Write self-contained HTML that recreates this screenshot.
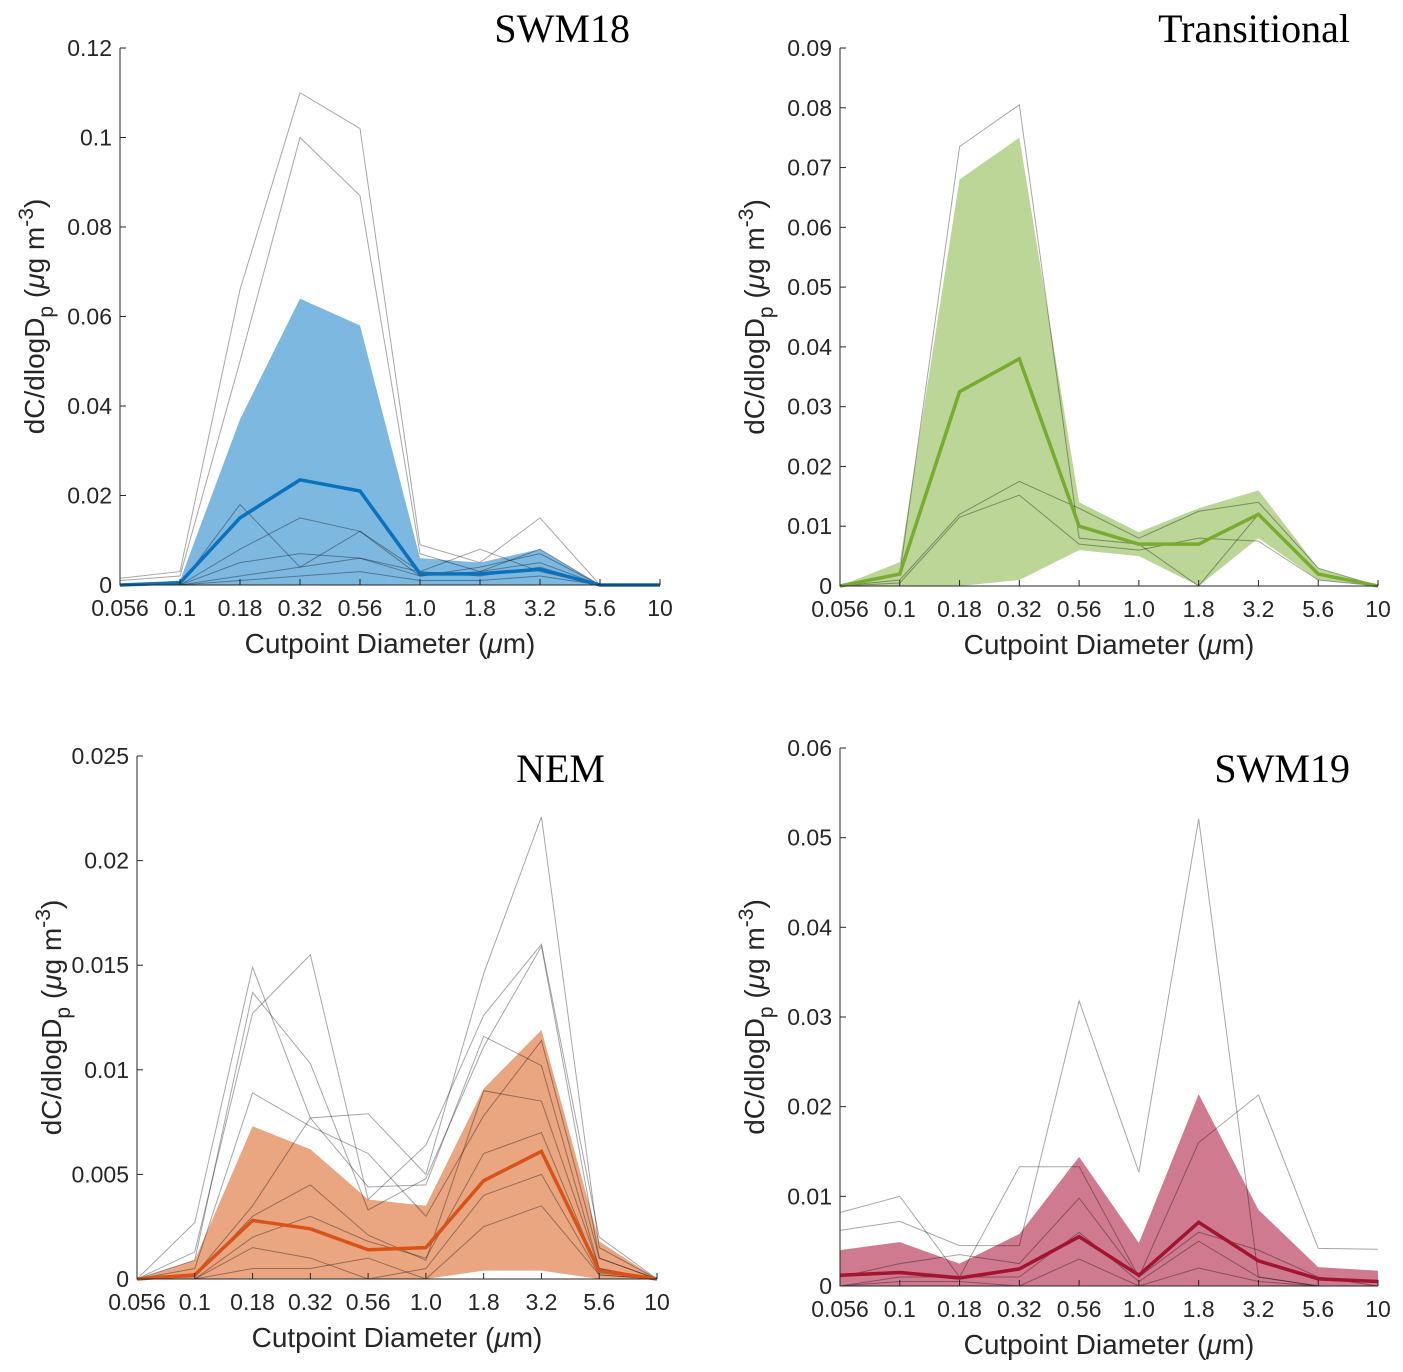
<!DOCTYPE html>
<html><head><meta charset="utf-8"><style>
body{margin:0;background:#fff;}
svg{display:block;font-family:"Liberation Sans",sans-serif;}
</style></head><body>
<svg id="chart" width="1403" height="1372"></svg>
<script>
const categories=["0.056","0.1","0.18","0.32","0.56","1.0","1.8","3.2","5.6","10"];
const swm18Mean=[0,0.0005,0.015,0.0235,0.021,0.0025,0.0025,0.0035,0,0];
const swm18Upper=[0,0.001,0.037,0.064,0.058,0.006,0.005,0.008,0,0];
const swm18Lower=[0,0,0,0,0,0,0,0,0,0];
const swm18Gray=[
[0.0015,0.003,0.066,0.110,0.102,0.009,0.005,0.015,0,0],
[0.001,0.002,0.050,0.100,0.087,0.007,0.003,0.008,0,0],
[0,0,0.018,0.004,0.012,0.003,0.008,0.003,0,0],
[0,0,0.008,0.015,0.012,0.002,0.004,0.007,0,0],
[0,0,0.005,0.007,0.006,0.002,0.003,0.005,0,0],
[0,0,0.002,0.004,0.006,0.003,0.002,0.004,0,0],
[0,0,0.001,0.002,0.003,0.001,0.001,0.002,0,0]];
const transMean=[0,0.002,0.0325,0.038,0.010,0.007,0.007,0.012,0.002,0];
const transUpper=[0,0.004,0.068,0.075,0.014,0.009,0.013,0.016,0.003,0];
const transLower=[0,0,0,0.001,0.006,0.005,0,0.008,0.001,0];
const transGray=[
[0,0.002,0.0735,0.0805,0.008,0.007,0,0.012,0.002,0],
[0,0.001,0.012,0.0175,0.013,0.008,0.0125,0.014,0.003,0],
[0,0.0005,0.0115,0.0152,0.007,0.006,0.008,0.0075,0.001,0]];
const nemMean=[0,0.0002,0.0028,0.0024,0.0014,0.0015,0.0047,0.0061,0.0004,0];
const nemUpper=[0,0.0009,0.0073,0.0062,0.0038,0.0035,0.0091,0.0119,0.0018,0];
const nemLower=[0,0,0,0,0,0,0.0004,0.0004,0,0];
const nemGray=[
[0,0.0027,0.0149,0.0077,0.0079,0.0050,0.0146,0.0221,0.0015,0],
[0,0.0013,0.0127,0.0155,0.0038,0.0064,0.0126,0.0160,0.0020,0],
[0,0.0009,0.0137,0.0103,0.0033,0.0048,0.0111,0.0159,0.0010,0],
[0,0.0005,0.0089,0.0073,0.0060,0.0030,0.0078,0.0114,0.0010,0],
[0,0.0002,0.0035,0.0077,0.0044,0.0045,0.0116,0.0102,0.0005,0],
[0,0.0001,0.0030,0.0045,0.0021,0.0009,0.0090,0.0085,0.0005,0],
[0,0,0.0020,0.0030,0.0018,0.0010,0.0060,0.0070,0.0003,0],
[0,0,0.0015,0.0010,0,0.0005,0.0040,0.0050,0.0002,0],
[0,0,0.0005,0.0005,0.0010,0,0.0025,0.0035,0.0002,0]];
const swm19Mean=[0.0012,0.0015,0.0009,0.0019,0.0055,0.0012,0.0071,0.0028,0.0008,0.0005];
const swm19Upper=[0.0040,0.0049,0.0025,0.0058,0.0144,0.0048,0.0214,0.0085,0.0021,0.0017];
const swm19Lower=[0,0,0,0,0,0,0,0,0,0];
const swm19Gray=[
[0.0082,0.0100,0.0010,0.0133,0.0133,0.0010,0.0160,0.0213,0.0042,0.0041],
[0.0062,0.0072,0.0045,0.0045,0.0318,0.0127,0.0521,0.0010,0,0],
[0.0010,0.0025,0.0035,0.0025,0.0098,0.0010,0.0060,0.0040,0.0010,0],
[0,0.0010,0.0010,0.0010,0.0060,0.0005,0.0050,0.0010,0,0],
[0,0.0005,0.0005,0,0.0030,0,0.0020,0.0005,0,0]];
const swm18Ticks=["0","0.02","0.04","0.06","0.08","0.1","0.12"];
const transTicks=["0","0.01","0.02","0.03","0.04","0.05","0.06","0.07","0.08","0.09"];
const nemTicks=["0","0.005","0.01","0.015","0.02","0.025"];
const swm19Ticks=["0","0.01","0.02","0.03","0.04","0.05","0.06"];

const NS="http://www.w3.org/2000/svg";
const svg=document.getElementById('chart');
function mk(tag,attrs,parent){const e=document.createElementNS(NS,tag);for(const k in attrs)e.setAttribute(k,attrs[k]);(parent||svg).appendChild(e);return e;}

function panel(o){
  const g=mk('g',{});
  
  
  const ymax=parseFloat(o.ticks[o.ticks.length-1]);
  const xs=i=>o.x0+(o.x1-o.x0)*i/(categories.length-1);
  const ys=v=>o.y0-(o.y0-o.y1)*v/ymax;
  let d='';
  o.upper.forEach((v,i)=>{d+=(i?'L':'M')+xs(i)+','+ys(v);});
  for(let i=o.lower.length-1;i>=0;i--)d+='L'+xs(i)+','+ys(o.lower[i]);
  const band=mk('path',{d:d+'Z',fill:o.fill,stroke:'none'},g);
  
  
  o.gray.forEach((s,k)=>{
    const p=mk('polyline',{points:s.map((v,i)=>xs(i)+','+ys(v)).join(' '),fill:'none',stroke:'#000','stroke-opacity':0.35,'stroke-width':1},g);
    
    
  });
  const m=mk('polyline',{points:o.mean.map((v,i)=>xs(i)+','+ys(v)).join(' '),fill:'none',stroke:o.line,'stroke-width':3.5},g);
  
  
  const ax=mk('path',{d:`M${o.x0},${o.y1}L${o.x0},${o.y0}L${o.x1},${o.y0}`,fill:'none',stroke:'#262626','stroke-width':1},g);
  
  
  o.ticks.forEach((t,i)=>{
    const y=ys(parseFloat(t));
    mk('line',{x1:o.x0,x2:o.x0+6,y1:y,y2:y,stroke:'#262626'},g);
    const tx=mk('text',{x:o.x0-8,y:y+8,'text-anchor':'end','font-size':23,fill:'#262626'},g);
    tx.textContent=t;
    
    
  });
  categories.forEach((c,i)=>{
    const x=xs(i);
    mk('line',{x1:x,x2:x,y1:o.y0,y2:o.y0-6,stroke:'#262626'},g);
    const tx=mk('text',{x:x,y:o.y0+31,'text-anchor':'middle','font-size':23,fill:'#262626'},g);
    tx.textContent=c;
    
    
  });
  const xl=mk('text',{x:(o.x0+o.x1)/2,y:o.y0+68,'text-anchor':'middle','font-size':28,fill:'#262626'},g);
  xl.innerHTML='Cutpoint Diameter (<tspan font-style="italic">μ</tspan>m)';
  
  
  const cy=(o.y0+o.y1)/2, lx=o.x0-76;
  const yl=mk('text',{x:lx,y:cy,'text-anchor':'middle','font-size':28,fill:'#262626',transform:`rotate(-90 ${lx} ${cy})`},g);
  yl.innerHTML='dC/dlogD<tspan dy="9" font-size="21">p</tspan><tspan dy="-9"> (</tspan><tspan font-style="italic">μ</tspan>g m<tspan dy="-11" font-size="21">-3</tspan><tspan dy="11">)</tspan>';
  
  
  const ti=mk('text',{x:o.tx,y:o.ty,'text-anchor':'end','font-size':40,fill:'#000','font-family':'"Liberation Serif",serif'},g);
  ti.textContent=o.title;
  
  
}
panel({name:'swm18',title:'SWM18',x0:120,x1:660,y0:585,y1:48,ticks:swm18Ticks,mean:swm18Mean,upper:swm18Upper,lower:swm18Lower,gray:swm18Gray,fill:'#7db8e0',line:'#0a72bd',tx:630,ty:42});
panel({name:'transitional',title:'Transitional',x0:840,x1:1378,y0:586,y1:48,ticks:transTicks,mean:transMean,upper:transUpper,lower:transLower,gray:transGray,fill:'#bbd696',line:'#77ac30',tx:1350,ty:42});
panel({name:'nem',title:'NEM',x0:137,x1:657,y0:1279,y1:756,ticks:nemTicks,mean:nemMean,upper:nemUpper,lower:nemLower,gray:nemGray,fill:'#eaa581',line:'#d95319',tx:605,ty:782});
panel({name:'swm19',title:'SWM19',x0:840,x1:1378,y0:1286,y1:748,ticks:swm19Ticks,mean:swm19Mean,upper:swm19Upper,lower:swm19Lower,gray:swm19Gray,fill:'#d07a90',line:'#a2142f',tx:1350,ty:782});
</script>
</body></html>
